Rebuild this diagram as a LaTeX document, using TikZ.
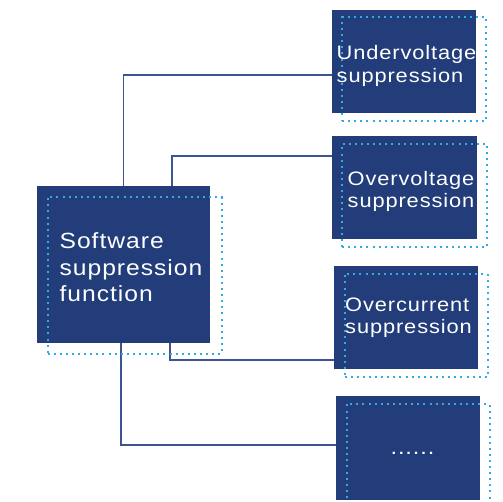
\documentclass[tikz,border=0pt]{standalone}
\usepackage{fontspec}
\setmainfont{Liberation Sans}[FakeStretch=1.12,LetterSpace=4.5]
\definecolor{boxblue}{RGB}{34,61,122}
\definecolor{wireblue}{RGB}{62,84,146}
\definecolor{dotblue}{RGB}{50,170,228}
\begin{document}
\begin{tikzpicture}[x=1pt,y=-1pt,
    box/.style={fill=boxblue,inner sep=0pt},
    frame/.style={draw=dotblue,line width=2pt,dash pattern=on 2pt off 4.1pt,inner sep=0pt},
    wire/.style={draw=wireblue,line width=1.4pt},
    boxtext/.style={text=white,align=left,inner sep=0pt,font=\fontsize{19.5}{22.5}\selectfont}]
    \useasboundingbox (0,0) rectangle (503,502);

    % wires first, the boxes sit on top of their ends
    \node[box,minimum width=173pt,minimum height=157pt] (soft) at (123.5,264.5) {};
    \node[box,minimum width=144pt,minimum height=103pt] (under) at (404,61.5) {};
    \node[box,minimum width=145pt,minimum height=103pt] (over) at (404.5,187.5) {};
    \node[box,minimum width=144pt,minimum height=103pt] (curr) at (406,317.5) {};
    \node[box,minimum width=144pt,minimum height=104pt] (more) at (408,448) {};

    \draw[wire] (soft.north) |- ([yshift=-13.5pt]under.west);
    \draw[wire] ([xshift=48.5pt]soft.north) |- ([yshift=31.5pt]over.west);
    \draw[wire] ([xshift=46.5pt]soft.south) |- ([yshift=-42.5pt]curr.west);
    \draw[wire] ([xshift=-2.5pt]soft.south) |- ([yshift=3pt]more.west);

    % dotted frames, shifted down and right
    \node[frame,minimum width=174pt,minimum height=157pt] (softframe) at ([xshift=11pt,yshift=-11pt]soft.center) {};
    \node[frame,minimum width=144pt,minimum height=104pt] (underframe) at ([xshift=10pt,yshift=-8pt]under.center) {};
    \node[frame,minimum width=145pt,minimum height=103pt] (overframe) at ([xshift=10pt,yshift=-8pt]over.center) {};
    \node[frame,minimum width=143pt,minimum height=103pt] (currframe) at ([xshift=10pt,yshift=-8pt]curr.center) {};
    \node[frame,minimum width=143pt,minimum height=104pt] (moreframe) at ([xshift=10pt,yshift=-8pt]more.center) {};

    % labels
    \node[boxtext,font=\fontsize{22}{26.5}\selectfont] (softtext) at ([xshift=7.5pt,yshift=-3pt]soft.center) {Software\\suppression\\function};
    \node[boxtext] (undertext) at ([xshift=2.5pt,yshift=-4.5pt]under.center) {Undervoltage\\suppression};
    \node[boxtext] (overtext) at ([xshift=6.5pt,yshift=-4pt]over.center) {Overvoltage\\suppression};
    \node[boxtext] (currtext) at ([xshift=2.5pt]curr.center) {Overcurrent\\suppression};
    \node[boxtext,anchor=base,font=\fontsize{21}{22.5}\selectfont] (moretext) at ([xshift=4.5pt,yshift=-6pt]more.center) {......};
\end{tikzpicture}
\end{document}
